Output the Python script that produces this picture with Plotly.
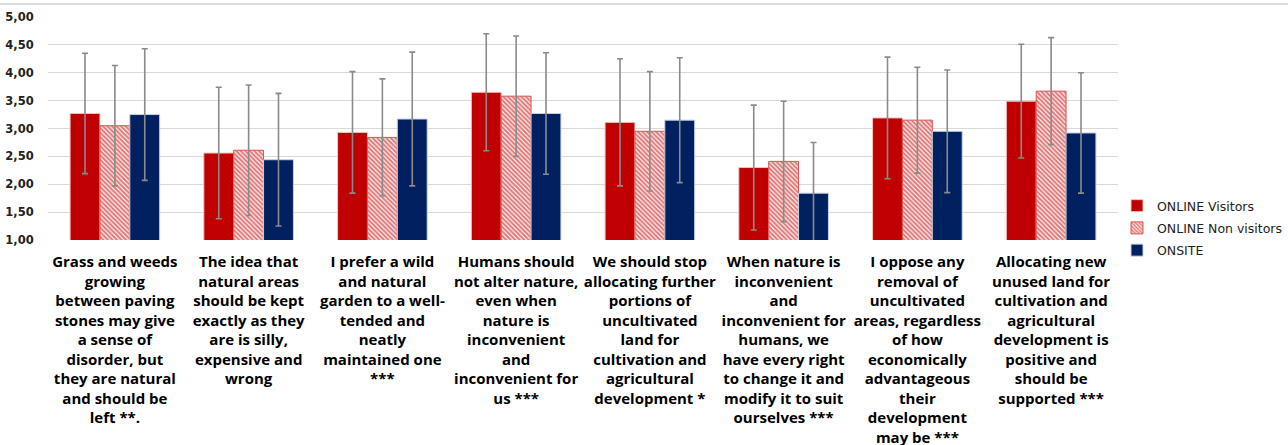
import plotly.graph_objects as go

categories = [
    "Grass and weeds<br>growing<br>between paving<br>stones may give<br>a sense of<br>disorder, but<br>they are natural<br>and should be<br>left **.",
    "The idea that<br>natural areas<br>should be kept<br>exactly as they<br>are is silly,<br>expensive and<br>wrong",
    "I prefer a wild<br>and natural<br>garden to a well-<br>tended and<br>neatly<br>maintained one<br>***",
    "Humans should<br>not alter nature,<br>even when<br>nature is<br>inconvenient<br>and<br>inconvenient for<br>us ***",
    "We should stop<br>allocating further<br>portions of<br>uncultivated<br>land for<br>cultivation and<br>agricultural<br>development *",
    "When nature is<br>inconvenient<br>and<br>inconvenient for<br>humans, we<br>have every right<br>to change it and<br>modify it to suit<br>ourselves ***",
    "I oppose any<br>removal of<br>uncultivated<br>areas, regardless<br>of how<br>economically<br>advantageous<br>their<br>development<br>may be ***",
    "Allocating new<br>unused land for<br>cultivation and<br>agricultural<br>development is<br>positive and<br>should be<br>supported ***",
]

online_visitors = [3.27, 2.56, 2.93, 3.65, 3.11, 2.30, 3.19, 3.49]
online_visitors_sd = [1.08, 1.18, 1.09, 1.05, 1.14, 1.12, 1.09, 1.02]

online_non_visitors = [3.05, 2.61, 2.84, 3.58, 2.95, 2.41, 3.15, 3.67]
online_non_visitors_sd = [1.08, 1.17, 1.05, 1.08, 1.07, 1.08, 0.95, 0.96]

onsite = [3.25, 2.44, 3.17, 3.27, 3.15, 1.84, 2.95, 2.92]
onsite_sd = [1.18, 1.19, 1.20, 1.09, 1.12, 0.91, 1.10, 1.08]

y_ticks = [1.0, 1.5, 2.0, 2.5, 3.0, 3.5, 4.0, 4.5, 5.0]

RED = "#C00000"
NAVY = "#002060"
ERR = dict(type="data", color="#8a8a8a", thickness=1.6, width=3)

fig = go.Figure()
fig.add_trace(go.Bar(
    name="ONLINE Visitors", x=categories, y=online_visitors, legendgroup="a",
    marker=dict(color=RED, line=dict(color="#f2c4c4", width=1)),
    error_y=dict(array=online_visitors_sd, **ERR),
))
fig.add_trace(go.Bar(
    name="ONLINE Non visitors", x=categories, y=online_non_visitors, legendgroup="b",
    marker=dict(color="white", line=dict(color="#e05050", width=1),
                pattern=dict(shape="\\", fgcolor=RED, bgcolor="white",
                             size=3.2, solidity=0.68, fillmode="overlay")),
    error_y=dict(array=online_non_visitors_sd, **ERR),
))
fig.add_trace(go.Bar(
    name="ONSITE", x=categories, y=onsite, legendgroup="c",
    marker=dict(color=NAVY, line=dict(color="#c9d2e3", width=1)),
    error_y=dict(array=onsite_sd, **ERR),
))

# thin frame line along the top of the chart area
fig.add_shape(type="line", xref="paper", yref="paper",
              x0=-48 / 1070, x1=1240 / 1070, y0=1.058, y1=1.058,
              line=dict(color="#d0d0d0", width=1.5))

fig.update_layout(
    width=1288, height=445,
    margin=dict(l=48, r=170, t=17, b=205, autoexpand=False),
    paper_bgcolor="white", plot_bgcolor="white",
    barmode="group", bargap=0.33, bargroupgap=0,
    separators=", ",
    font=dict(family="Open Sans", color="black"),
    showlegend=True,
    legend=dict(xref="container", yref="container",
                x=1117 / 1288, xanchor="left", y=1 - 191 / 445, yanchor="top",
                font=dict(family="DejaVu Sans", size=12.5, color="#222"),
                bgcolor="rgba(0,0,0,0)", itemwidth=30, tracegroupgap=3),
)
fig.update_xaxes(
    tickfont=dict(family="Open Sans", size=15, weight="bold", color="black"),
    showgrid=False, showline=False, tickangle=0,
    ticks="outside", ticklen=8, tickcolor="rgba(0,0,0,0)",
)
fig.update_yaxes(
    range=[1, 5], tickvals=y_ticks, tickformat=".2f",
    tickfont=dict(family="DejaVu Sans", size=11.5, weight="bold", color="#222"),
    showgrid=True, gridcolor="#d9d9d9", gridwidth=1.2,
    zeroline=False, showline=False,
    ticks="outside", ticklen=11, tickcolor="rgba(0,0,0,0)",
)

fig.write_html("out.html")
